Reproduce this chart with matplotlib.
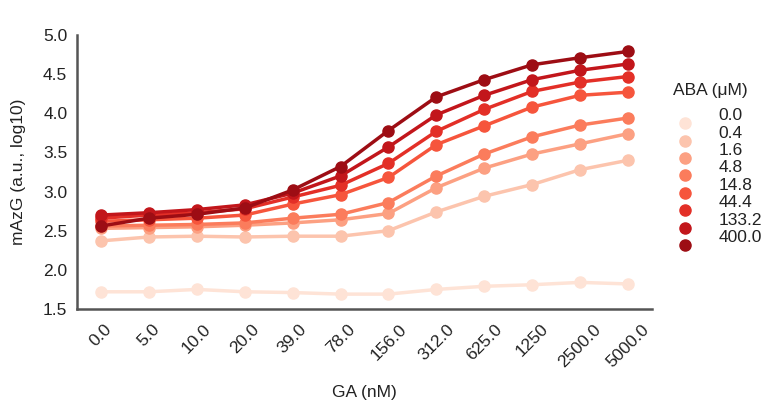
import numpy as np
import matplotlib
matplotlib.use('Agg')
import matplotlib.pyplot as plt

plt.rcParams['font.family'] = ['Liberation Sans', 'DejaVu Sans']

ga_labels = ['0.0', '5.0', '10.0', '20.0', '39.0', '78.0', '156.0', '312.0',
             '625.0', '1250', '2500.0', '5000.0']
aba_labels = ['0.0', '0.4', '1.6', '4.8', '14.8', '44.4', '133.2', '400.0']

aba_0_0 = [1.72, 1.72, 1.75, 1.72, 1.71, 1.69, 1.69, 1.75, 1.79, 1.81, 1.84, 1.82]
aba_0_4 = [2.37, 2.42, 2.43, 2.42, 2.43, 2.43, 2.50, 2.74, 2.94, 3.09, 3.28, 3.40]
aba_1_6 = [2.53, 2.54, 2.55, 2.57, 2.60, 2.64, 2.72, 3.05, 3.30, 3.48, 3.61, 3.74]
aba_4_8 = [2.56, 2.57, 2.58, 2.60, 2.66, 2.71, 2.86, 3.20, 3.48, 3.70, 3.85, 3.94]
aba_14_8 = [2.62, 2.64, 2.66, 2.70, 2.84, 2.96, 3.18, 3.60, 3.84, 4.08, 4.23, 4.27]
aba_44_4 = [2.66, 2.70, 2.73, 2.78, 2.93, 3.08, 3.36, 3.77, 4.05, 4.28, 4.40, 4.47]
aba_133_2 = [2.70, 2.73, 2.77, 2.83, 2.98, 3.20, 3.57, 3.98, 4.23, 4.43, 4.55, 4.63]
aba_400_0 = [2.56, 2.66, 2.71, 2.79, 3.02, 3.32, 3.78, 4.21, 4.43, 4.62, 4.71, 4.79]

series = [aba_0_0, aba_0_4, aba_1_6, aba_4_8, aba_14_8, aba_44_4, aba_133_2, aba_400_0]
colors = plt.cm.Reds(np.linspace(0, 1, 10)[1:-1])
txt = '#222222'
fs = 12.5

fig = plt.figure(figsize=(7.67, 4.12), dpi=100)
ax = fig.add_axes([0.1004, 0.25, 0.7497, 0.665])

x = np.arange(len(ga_labels))
for vals, lab, c in zip(series, aba_labels, colors):
    ax.plot(x, vals, color=c, lw=2.5, marker='o', ms=8, label=lab)

ax.set_xlim(-0.5, 11.5)
ax.set_ylim(1.5, 5.0)
ax.set_yticks(np.arange(1.5, 5.01, 0.5))
ax.set_xticks(x)
ax.set_xticklabels(ga_labels, rotation=45, ha='center')
ax.tick_params(length=0, labelsize=fs, colors=txt)
ax.tick_params(axis='x', pad=9)
ax.tick_params(axis='y', pad=7)
for s in ['top', 'right']:
    ax.spines[s].set_visible(False)
for s in ['left', 'bottom']:
    ax.spines[s].set_color('#555555')
    ax.spines[s].set_linewidth(1.8)

ax.set_xlabel('GA (nM)', fontsize=fs, labelpad=11, color=txt)
ax.set_ylabel('mAzG (a.u., log10)', fontsize=fs, labelpad=12, color=txt)

# legend: labels sit half a row above their markers, as in the original
leg = ax.legend(title='ABA (μM)', loc='upper left', bbox_to_anchor=(0.8616, 0.7957),
                bbox_transform=fig.transFigure, frameon=False, fontsize=fs,
                title_fontsize=fs, handlelength=1.0, labelspacing=0.13,
                handletextpad=1.44)
for line in leg.get_lines():
    line.set_linestyle('none')
for t in leg.get_texts():
    t.set_color(txt)
    t.set_y(9)
leg.get_title().set_color(txt)
leg.get_title().set_y(16.6)
leg.get_title().set_x(-9)

fig.savefig('out.png', dpi=100)
